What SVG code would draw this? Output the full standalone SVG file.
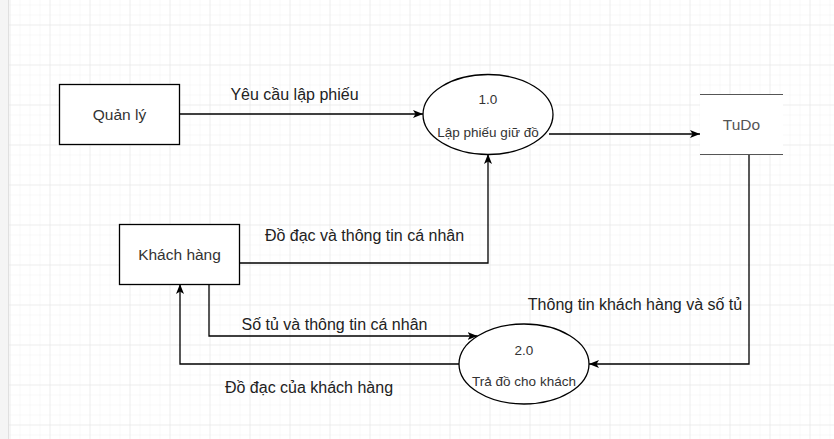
<svg xmlns="http://www.w3.org/2000/svg" width="834" height="439" viewBox="0 0 834 439">
  <style>
    .node { fill: #ffffff; stroke: #000000; stroke-width: 1.3; }
    .edge { fill: none; stroke: #000000; stroke-width: 1.3; }
    .ntext { font-family: "Liberation Sans", Arial, sans-serif; font-size: 15.5px; fill: #333333; text-anchor: middle; }
    .ptext { font-family: "Liberation Sans", Arial, sans-serif; font-size: 13.5px; fill: #333333; text-anchor: middle; }
    .label { font-family: "Liberation Sans", Arial, sans-serif; font-size: 16px; fill: #222222; text-anchor: middle; }
  </style>
  <defs>
    <pattern id="minor" x="9.5" y="4.5" width="10" height="10" patternUnits="userSpaceOnUse">
      <path d="M 10 0 L 0 0 0 10" fill="none" stroke="#f1f1f1" stroke-width="1"/>
    </pattern>
    <pattern id="major" x="9.5" y="24.5" width="40" height="40" patternUnits="userSpaceOnUse">
      <path d="M 40 0 L 0 0 0 40" fill="none" stroke="#e3e3e3" stroke-width="1"/>
    </pattern>
    <marker id="arrow" viewBox="0 0 10 10" refX="10" refY="5" markerWidth="10" markerHeight="10" markerUnits="userSpaceOnUse" orient="auto">
      <path d="M 0 1 L 10 5 L 0 9 L 2.5 5 Z" fill="#000000"/>
    </marker>
  </defs>

  <rect x="0" y="0" width="834" height="439" fill="#ffffff"/>
  <rect x="0" y="0" width="834" height="439" fill="url(#minor)"/>
  <rect x="0" y="0" width="834" height="439" fill="url(#major)"/>
  <rect x="0" y="0" width="8" height="439" fill="#f5f5f5"/>
  <line x1="8.5" y1="0" x2="8.5" y2="439" stroke="#e0e0e0"/>

  <g id="connectors">
    <path class="edge" d="M 179 114 L 423 114" marker-end="url(#arrow)"/>
    <path class="edge" d="M 549 134 L 700 134" marker-end="url(#arrow)"/>
    <path class="edge" d="M 239 263 L 488 263 L 488 154" marker-end="url(#arrow)"/>
    <path class="edge" d="M 749 154 L 749 364 L 589 364" marker-end="url(#arrow)"/>
    <path class="edge" d="M 209 284 L 209 336 L 477.5 336" marker-end="url(#arrow)"/>
    <path class="edge" d="M 459 364 L 180 364 L 180 284" marker-end="url(#arrow)"/>
    <text class="label" x="294.5" y="100">Yêu cầu lập phiếu</text>
    <text class="label" x="364.5" y="240.5">Đồ đạc và thông tin cá nhân</text>
    <text class="label" x="635" y="310">Thông tin khách hàng và số tủ</text>
    <text class="label" x="334.5" y="330">Số tủ và thông tin cá nhân</text>
    <text class="label" x="309" y="392.5">Đồ đạc của khách hàng</text>
  </g>

  <g id="quan-ly">
    <rect class="node" x="59.5" y="84.5" width="120" height="60"/>
    <text class="ntext" x="119.5" y="120">Quản lý</text>
  </g>

  <g id="khach-hang">
    <rect class="node" x="119.5" y="224.5" width="120" height="60"/>
    <text class="ntext" x="179.5" y="260">Khách hàng</text>
  </g>

  <g id="process-1">
    <ellipse class="node" cx="488" cy="114.5" rx="65" ry="40"/>
    <text class="ptext" x="488" y="104">1.0</text>
    <text class="ptext" x="488" y="137">Lập phiếu giữ đồ</text>
  </g>

  <g id="process-2">
    <ellipse class="node" cx="524" cy="364" rx="65" ry="40"/>
    <text class="ptext" x="524" y="355">2.0</text>
    <text class="ptext" x="524" y="386">Trả đồ cho khách</text>
  </g>

  <g id="tudo">
    <rect x="700" y="94" width="83" height="60" fill="#ffffff"/>
    <line x1="700" y1="94.5" x2="783" y2="94.5" stroke="#555555" stroke-width="1.2"/>
    <line x1="700" y1="154.5" x2="783" y2="154.5" stroke="#555555" stroke-width="1.2"/>
    <text class="ntext" x="741.5" y="130" style="fill:#555555">TuDo</text>
  </g>
</svg>
